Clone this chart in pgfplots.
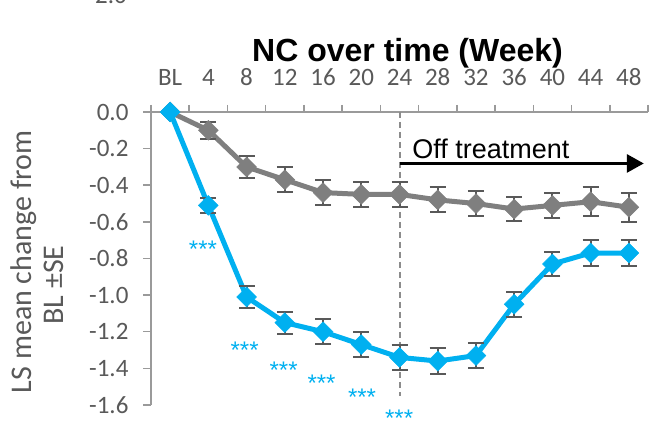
\documentclass[border=0pt]{standalone}
\usepackage{pgfplots}
\pgfplotsset{compat=1.18}
\usepackage{pgfplotstable}
\usepackage{fontspec}
\setmainfont{Carlito}
\newfontfamily\arialfont{Liberation Sans}
\usetikzlibrary{arrows.meta}

\definecolor{ncblue}{HTML}{00B0F0}
\definecolor{ncgray}{HTML}{7F7F7F}
\definecolor{errgray}{HTML}{595959}
\definecolor{labelgray}{HTML}{595959}
\definecolor{axisgray}{HTML}{9A9A9A}
\definecolor{dashgray}{HTML}{8C8C8C}

% idx: visit (0 = BL, 1 = week 4, ..., 12 = week 48)
% g*: comparator arm, b*: active arm; mean change and SE
\pgfplotstableread{
idx  gmean  gse    bmean  bse
0     0.00  0.000   0.00  0.000
1    -0.10  0.046  -0.51  0.040
2    -0.30  0.060  -1.01  0.060
3    -0.37  0.068  -1.15  0.060
4    -0.44  0.070  -1.20  0.068
5    -0.45  0.068  -1.27  0.070
6    -0.45  0.070  -1.34  0.070
7    -0.48  0.068  -1.36  0.070
8    -0.50  0.068  -1.33  0.070
9    -0.53  0.067  -1.05  0.068
10   -0.51  0.068  -0.83  0.068
11   -0.49  0.080  -0.77  0.070
12   -0.52  0.080  -0.77  0.070
}\ncdata

\begin{document}
\begin{tikzpicture}[x=1pt,y=1pt]
\useasboundingbox (0,0) rectangle (652,422);
\begin{axis}[
  at={(151pt,17pt)}, anchor=south west,
  scale only axis, width=497pt, height=293pt,
  xmin=-0.5, xmax=12.5, ymin=-1.6, ymax=0,
  axis x line*=top, axis y line*=left,
  axis line style={axisgray, line width=1.5pt},
  every tick/.style={axisgray, line width=1.5pt},
  tick align=outside,
  major tick length=8pt, minor tick length=7pt,
  xtick={0,...,12},
  xticklabels={BL,4,8,12,16,20,24,28,32,36,40,44,48},
  major x tick style={draw=none},
  minor xtick={-0.5,0.5,...,12.5},
  ytick={-1.6,-1.4,...,0},
  yticklabels={-1.6,-1.4,-1.2,-1.0,-0.8,-0.6,-0.4,-0.2,0.0},
  ticklabel style={font=\fontsize{25}{30}\selectfont, text=labelgray},
  xticklabel style={yshift=15pt},
  yticklabel style={xshift=-11pt},
  clip=false,
]
% end of the treatment period
\draw[dashgray, line width=2pt, dash pattern=on 6pt off 4pt]
  (axis cs:6,0) -- (axis cs:6,-1.55);
\draw[black, line width=3pt, -{Triangle[length=17pt,width=18pt]}]
  (axis cs:6,-0.281) -- (axis cs:12.39,-0.281);
\node[anchor=base west, inner sep=0, font=\arialfont\fontsize{27}{32}\selectfont]
  at (axis cs:6.33,-0.252) {Off treatment};

\addplot[ncgray, line width=5pt, mark=square*, mark size=7pt,
  mark options={rotate=45, fill=ncgray, draw=ncgray, line width=0.5pt},
  error bars/.cd, y dir=both, y explicit,
  error bar style={errgray, line width=2pt},
  error mark options={rotate=90, errgray, line width=2pt, mark size=8pt}]
  table[x=idx, y=gmean, y error=gse]{\ncdata};

\addplot[ncblue, line width=5pt, mark=square*, mark size=7pt,
  mark options={rotate=45, fill=ncblue, draw=ncblue, line width=0.5pt},
  error bars/.cd, y dir=both, y explicit,
  error bar style={errgray, line width=2pt},
  error mark options={rotate=90, errgray, line width=2pt, mark size=8pt}]
  table[x=idx, y=bmean, y error=bse]{\ncdata};

% significance markers
\begin{scope}[every node/.style={ncblue, inner sep=0, font=\arialfont\fontsize{24}{28}\selectfont}]
\node at (axis cs:0.86,-0.75) {***};
\node at (axis cs:1.95,-1.30) {***};
\node at (axis cs:2.97,-1.41) {***};
\node at (axis cs:3.96,-1.48) {***};
\node at (axis cs:5.02,-1.555) {***};
\node at (axis cs:5.99,-1.67) {***};
\end{scope}
\end{axis}

\node[anchor=base, inner sep=0, font=\arialfont\bfseries\fontsize{32}{38}\selectfont]
  at (407.5,360) {NC over time (Week)};
\node[rotate=90, anchor=base, inner sep=0, text=labelgray, font=\fontsize{30}{36}\selectfont]
  at (32,160) {LS mean change from};
\node[rotate=90, anchor=base, inner sep=0, text=labelgray, font=\fontsize{30}{36}\selectfont]
  at (63,137) {BL ±SE};
\node[anchor=base east, inner sep=0, text=labelgray, font=\fontsize{25}{30}\selectfont]
  at (127,418) {-2.0};
\end{tikzpicture}
\end{document}
